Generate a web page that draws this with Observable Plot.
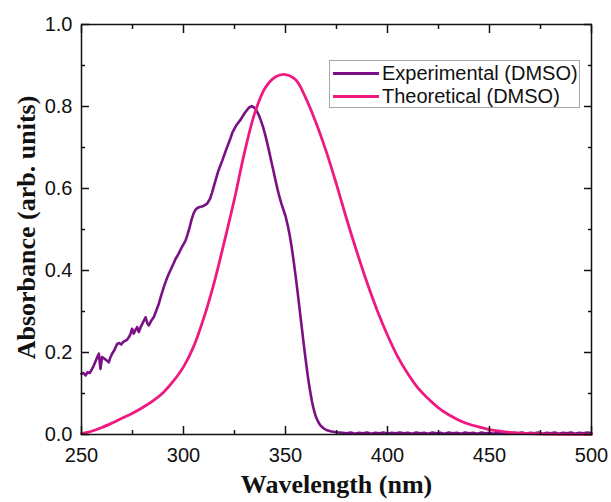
<!DOCTYPE html>
<html>
<head>
<meta charset="utf-8">
<script src="https://cdn.jsdelivr.net/npm/d3@7"></script>
<script src="https://cdn.jsdelivr.net/npm/@observablehq/plot@0.6"></script>
<style>
  html, body { margin: 0; padding: 0; background: #fff; }
  #wrap { position: relative; width: 611px; height: 502px; }
  #wrap svg g[aria-label$="tick label"] { font-size: 20px !important; font-family: Arial, "Liberation Sans", sans-serif; }
  #wrap svg g[aria-label$="tick label"] text { font-size: 20px !important; }
  #legend { position: absolute; left: 329px; top: 60px; width: 251px; height: 48px; box-sizing: border-box;
            border: 1px solid #a8a8a8; background: #fff; font-family: Arial, "Liberation Sans", sans-serif; font-size: 20px; color: #111; }
  .item { position: absolute; left: 3px; height: 24px; display: flex; align-items: center; white-space: nowrap; }
  .swatch { width: 46px; height: 0; border-top: 3px solid; margin-right: 3px; }
</style>
</head>
<body>
<div id="wrap"></div>
<script>
// ---- Data ----
const seriesNames = ["Experimental (DMSO)", "Theoretical (DMSO)"];
const seriesColors = ["#7a0f86", "#ee1a82"];

const expWavelength = [
  250, 251, 252, 253, 254, 255, 256, 257, 258, 258.5, 259.3, 260.1, 261, 262, 263.4, 264, 265, 266, 267.5, 268.5,
  269.5, 270.5, 271.6, 272.5, 273.2, 274, 274.8, 275.6, 276.5, 277.3, 278.1, 279, 279.8, 280.6, 281.4, 282.2, 283, 284, 285.4, 286.5,
  287.9, 289, 290.3, 291.5, 292.8, 294, 295, 296.1, 297.5, 299, 301, 302, 303, 304, 305, 306, 307, 308, 309, 310,
  311.6, 313, 314, 315.7, 317, 319, 321, 323, 324, 326, 328, 330, 332, 333.5, 335, 336, 337, 338, 339, 340,
  341, 342, 343, 344, 345, 346, 347, 348, 349, 350, 351, 352, 353, 354, 355, 356, 357, 358, 359, 360,
  361, 362, 363, 364, 365, 366, 367, 368, 369, 370, 372, 374,
  376, 378, 380, 382, 384, 386, 388, 390, 392, 394, 396, 398, 400, 402, 404, 406, 408, 410, 412, 414,
  416, 418, 420, 422, 424, 426, 428, 430, 432, 434, 436, 438, 440, 442, 444, 446, 448, 450, 452, 454,
  456, 458, 460, 462, 464, 466, 468, 470, 472, 474, 476, 478, 480, 482, 484, 486, 488, 490, 492, 494, 496, 498, 500
];
const expAbsorbance = [
  0.148, 0.150, 0.144, 0.152, 0.150, 0.158, 0.168, 0.180, 0.192, 0.197, 0.160, 0.189, 0.186, 0.182, 0.176, 0.186, 0.197, 0.205, 0.221, 0.223,
  0.220, 0.226, 0.229, 0.232, 0.237, 0.245, 0.258, 0.246, 0.255, 0.262, 0.250, 0.262, 0.270, 0.278, 0.286, 0.272, 0.266, 0.276, 0.286, 0.300,
  0.319, 0.338, 0.359, 0.376, 0.392, 0.405, 0.416, 0.428, 0.440, 0.455, 0.473, 0.488, 0.505, 0.525, 0.540, 0.549, 0.553, 0.555, 0.556, 0.558,
  0.563, 0.575, 0.590, 0.620, 0.642, 0.668, 0.696, 0.722, 0.737, 0.755, 0.768, 0.784, 0.797, 0.801, 0.796, 0.788, 0.778, 0.765, 0.750, 0.732,
  0.712, 0.690, 0.667, 0.645, 0.622, 0.600, 0.580, 0.563, 0.548, 0.533, 0.512, 0.488, 0.458, 0.423, 0.385, 0.345, 0.302, 0.260, 0.218, 0.178,
  0.140, 0.108, 0.080, 0.058, 0.042, 0.031, 0.023, 0.018, 0.014, 0.011, 0.008, 0.006,
  0.005, 0.004, 0.003, 0.005, 0.002, 0.004, 0.003, 0.005, 0.002, 0.004, 0.003, 0.005, 0.002, 0.004, 0.003, 0.005, 0.003, 0.004, 0.002, 0.005,
  0.003, 0.004, 0.002, 0.005, 0.003, 0.004, 0.002, 0.005, 0.003, 0.004, 0.002, 0.005, 0.003, 0.004, 0.002, 0.005, 0.003, 0.004, 0.002, 0.005,
  0.003, 0.004, 0.002, 0.004, 0.003, 0.005, 0.002, 0.004, 0.003, 0.005, 0.002, 0.004, 0.003, 0.005, 0.002, 0.004, 0.003, 0.005, 0.002, 0.004, 0.003, 0.005, 0.003
];

const theoWavelength = [
  250, 255, 260, 265, 270, 275, 280, 285, 290, 295, 300, 305, 310, 315, 320, 325, 330, 335, 340, 345,
  350, 355, 360, 365, 370, 375, 380, 385, 390, 395, 400, 405, 410, 415, 420, 425, 430, 435, 440, 445,
  450, 455, 460, 465, 470, 480, 490, 500
];
const theoAbsorbance = [
  0.002, 0.008, 0.017, 0.028, 0.040, 0.052, 0.066, 0.082, 0.102, 0.130, 0.165, 0.215, 0.285, 0.370, 0.470, 0.575, 0.690, 0.785, 0.845, 0.872,
  0.878, 0.865, 0.820, 0.760, 0.690, 0.610, 0.525, 0.445, 0.370, 0.302, 0.242, 0.190, 0.148, 0.113, 0.087, 0.065, 0.048, 0.035, 0.025, 0.018,
  0.012, 0.008, 0.005, 0.003, 0.002, 0.001, 0.0005, 0.0003
];

const xMajorTicks = [250, 300, 350, 400, 450, 500];
const xMinorTicks = [275, 325, 375, 425, 475];
const yMajorTicks = [0, 0.2, 0.4, 0.6, 0.8, 1.0];
const yMinorTicks = [0.1, 0.3, 0.5, 0.7, 0.9];
const xTitle = "Wavelength (nm)";
const yTitle = "Absorbance (arb. units)";

// ---- Build ----
const expData = expWavelength.map((w, i) => ({w, a: expAbsorbance[i]}));
const theoData = theoWavelength.map((w, i) => ({w, a: theoAbsorbance[i]}));
const blank = () => "";
const titleFont = "'Liberation Serif', 'Times New Roman', 'DejaVu Serif', serif";

const chart = Plot.plot({
  width: 611,
  height: 502,
  marginLeft: 81,
  marginRight: 20,
  marginTop: 24,
  marginBottom: 68,
  x: {domain: [250, 500]},
  y: {domain: [0, 1]},
  style: {fontFamily: "Arial, 'Liberation Sans', sans-serif", fontSize: "20px", color: "#111", background: "#fff", overflow: "visible"},
  marks: [
    Plot.line(expData, {x: "w", y: "a", stroke: seriesColors[0], strokeWidth: 2.6, strokeLinejoin: "round"}),
    Plot.line(theoData, {x: "w", y: "a", stroke: seriesColors[1], strokeWidth: 2.8, curve: "catmull-rom"}),
    Plot.frame({stroke: "#111", strokeWidth: 1.5}),
    Plot.axisX({ticks: xMajorTicks, tickSize: -8, tickPadding: 21, fontSize: 20, tickFormat: d => String(d), label: null, strokeWidth: 1.5}),
    Plot.axisX({ticks: xMinorTicks, tickSize: -4, tickFormat: blank, label: null, strokeWidth: 1.5}),
    Plot.axisX({anchor: "top", ticks: xMajorTicks, tickSize: -8, tickFormat: blank, label: null, strokeWidth: 1.5}),
    Plot.axisX({anchor: "top", ticks: xMinorTicks, tickSize: -4, tickFormat: blank, label: null, strokeWidth: 1.5}),
    Plot.axisY({ticks: yMajorTicks, tickSize: -8, tickPadding: 17, fontSize: 20, tickFormat: d3.format(".1f"), label: null, strokeWidth: 1.5}),
    Plot.axisY({ticks: yMinorTicks, tickSize: -4, tickFormat: blank, label: null, strokeWidth: 1.5}),
    Plot.axisY({anchor: "right", ticks: yMajorTicks, tickSize: -8, tickFormat: blank, label: null, strokeWidth: 1.5}),
    Plot.axisY({anchor: "right", ticks: yMinorTicks, tickSize: -4, tickFormat: blank, label: null, strokeWidth: 1.5}),
    Plot.text([xTitle], {frameAnchor: "bottom", dy: 58, text: d => d, textAnchor: "middle", fontFamily: titleFont, fontWeight: "bold", fontSize: 26, fill: "#111"}),
    Plot.text([yTitle], {frameAnchor: "left", dx: -55, dy: -2, rotate: -90, text: d => d, textAnchor: "middle", fontFamily: titleFont, fontWeight: "bold", fontSize: 26, fill: "#111"})
  ]
});

const wrap = document.getElementById("wrap");
wrap.appendChild(chart);

// legend (inside plot area)
const legend = document.createElement("div");
legend.id = "legend";
seriesNames.forEach((name, i) => {
  const item = document.createElement("div");
  item.className = "item";
  item.style.top = (i === 0 ? 0 : 23) + "px";
  const sw = document.createElement("div");
  sw.className = "swatch";
  sw.style.borderTopColor = seriesColors[i];
  const label = document.createElement("span");
  label.textContent = name;
  item.appendChild(sw);
  item.appendChild(label);
  legend.appendChild(item);
});
wrap.appendChild(legend);
</script>
</body>
</html>
